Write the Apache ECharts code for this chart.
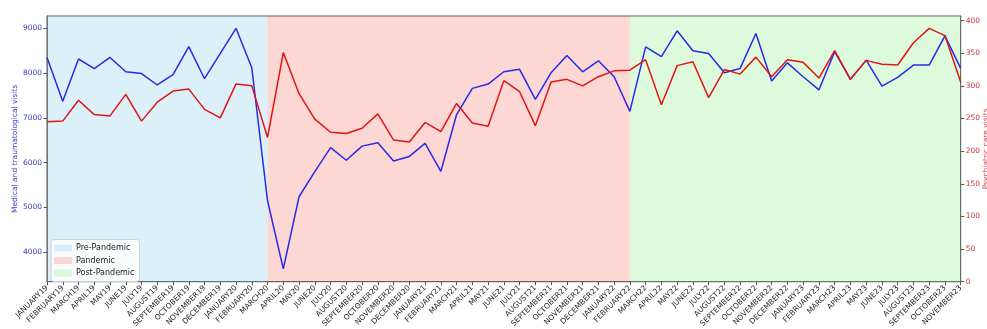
<!DOCTYPE html>
<html><head><meta charset="utf-8">
<script src="https://cdn.jsdelivr.net/npm/echarts@6/dist/echarts.min.js"></script>
<style>html,body{margin:0;padding:0;background:#fff}#c{width:987px;height:329px}</style>
</head><body><div id="c"></div>
<script>
const months = ['JANUARY19','FEBRUARY19','MARCH19','APRIL19','MAY19','JUNE19','JULY19','AUGUST19','SEPTEMBER19','OCTOBER19','NOVEMBER19','DECEMBER19',
'JANUARY20','FEBRUARY20','MARCH20','APRIL20','MAY20','JUNE20','JULY20','AUGUST20','SEPTEMBER20','OCTOBER20','NOVEMBER20','DECEMBER20',
'JANUARY21','FEBRUARY21','MARCH21','APRIL21','MAY21','JUNE21','JULY21','AUGUST21','SEPTEMBER21','OCTOBER21','NOVEMBER21','DECEMBER21',
'JANUARY22','FEBRUARY22','MARCH22','APRIL22','MAY22','JUNE22','JULY22','AUGUST22','SEPTEMBER22','OCTOBER22','NOVEMBER22','DECEMBER22',
'JANUARY23','FEBRUARY23','MARCH23','APRIL23','MAY23','JUNE23','JULY23','AUGUST23','SEPTEMBER23','OCTOBER23','NOVEMBER23'];
const medicalVisits = [8350,7370,8315,8100,8350,8030,7990,7735,7965,8590,7875,8440,
9000,8120,5150,3630,5240,5800,6335,6055,6370,6445,6040,6140,
6430,5805,7075,7660,7755,8030,8085,7415,8010,8395,8030,8275,
7920,7145,8585,8366,8945,8500,8440,8010,8105,8885,7825,8230,
7920,7625,8480,7860,8290,7710,7905,8180,8180,8830,8105];
const psychVisits = [245,246,278,256,254,287,246,275,292,295,264,251,
303,300,221,351,288,249,229,227,235,257,217,214,
244,230,273,243,238,308,291,239,306,310,300,314,
323,324,340,271,331,337,282,325,318,344,314,340,
336,312,354,310,339,333,332,366,388,377,306];
const leftTicks = [4000,5000,6000,7000,8000,9000];
const rightTicks = [0,50,100,150,200,250,300,350,400];
const periods = [
  {name:'Pre-Pandemic', from:'JANUARY19', to:'MARCH20', color:'rgba(135,206,235,0.3)'},
  {name:'Pandemic', from:'MARCH20', to:'FEBRUARY22', color:'rgba(245,110,100,0.28)'},
  {name:'Post-Pandemic', from:'FEBRUARY22', to:'NOVEMBER23', color:'rgba(144,238,144,0.3)'}
];
const FONT = 'DejaVu Sans';
const chart = echarts.init(document.getElementById('c'), null, {renderer:'canvas'});
const series = [
  {name:'Medical and traumatological visits', type:'line', yAxisIndex:0, data:medicalVisits, symbol:'none',
   lineStyle:{color:'#2a2ae6', width:1.5}, itemStyle:{color:'#2a2ae6'}, z:2},
  {name:'Psychiatric care visits', type:'line', yAxisIndex:1, data:psychVisits, symbol:'none',
   lineStyle:{color:'#e01515', width:1.5}, itemStyle:{color:'#e01515'}, z:2}
];
periods.forEach(p => series.push({
  name:p.name, type:'line', yAxisIndex:0, data:[], z:5,
  itemStyle:{color:p.color}, lineStyle:{color:p.color},
  markArea:{silent:true, itemStyle:{color:p.color}, data:[[{xAxis:p.from},{xAxis:p.to}]]}
}));
chart.setOption({
  animation:false,
  grid:{left:47, right:26.3, top:16, bottom:47.3, show:true, borderColor:'#555', borderWidth:1,
        containLabel:false, outerBoundsMode:'none'},
  legend:{orient:'vertical', left:51, top:239.5, selectedMode:false,
    backgroundColor:'rgba(255,255,255,0.85)', borderColor:'#d0d0d0', borderWidth:1, borderRadius:3,
    padding:[4,5,4,3], itemWidth:18, itemHeight:7, itemGap:3.5, icon:'rect',
    textStyle:{fontFamily:FONT, fontSize:8, color:'#222', lineHeight:9, padding:[0,0,0,-1]},
    data:periods.map(p=>({name:p.name, itemStyle:{color:p.color}}))},
  xAxis:{type:'category', data:months, boundaryGap:false,
    axisLine:{show:true, lineStyle:{color:'#555'}},
    axisTick:{show:true, interval:0, length:3.5, lineStyle:{color:'#555'}},
    axisLabel:{interval:0, rotate:45, fontFamily:FONT, fontSize:7.5, color:'#222', margin:5},
    splitLine:{show:false}},
  yAxis:[
    {type:'value', position:'left', min:3344, max:9275,
     name:'Medical and traumatological visits', nameLocation:'middle', nameRotate:90, nameGap:28,
     nameMoveOverlap:false,
     nameTextStyle:{fontFamily:FONT, fontSize:7.5, color:'#3b3bc0'},
     axisLine:{show:true, lineStyle:{color:'#555'}},
     axisTick:{show:true, length:3.5, customValues:leftTicks, lineStyle:{color:'#555'}},
     axisLabel:{customValues:leftTicks, formatter:v=>String(v), fontFamily:FONT, fontSize:7.5, color:'#3b3bc0', margin:5},
     splitLine:{show:false}},
    {type:'value', position:'right', min:0, max:407,
     name:'Psychiatric care visits', nameLocation:'middle', nameRotate:90, nameGap:21,
     nameMoveOverlap:false,
     nameTextStyle:{fontFamily:FONT, fontSize:7.5, color:'#cc3333'},
     axisLine:{show:true, lineStyle:{color:'#555'}},
     axisTick:{show:true, length:3.5, customValues:rightTicks, lineStyle:{color:'#555'}},
     axisLabel:{customValues:rightTicks, formatter:v=>String(v), fontFamily:FONT, fontSize:7.5, color:'#cc3333', margin:5},
     splitLine:{show:false}}
  ],
  series:series
});
</script></body></html>
